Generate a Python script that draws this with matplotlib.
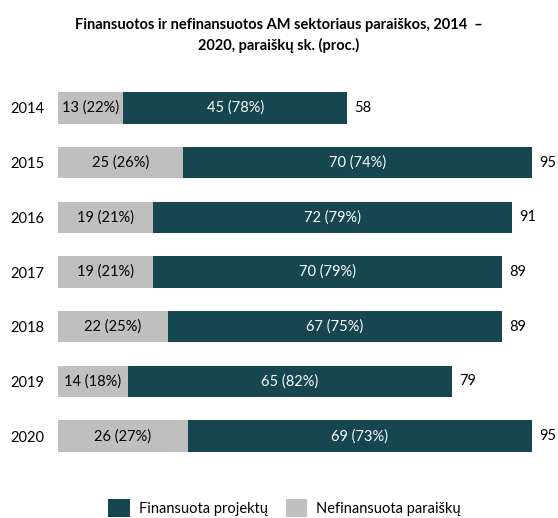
import matplotlib.pyplot as plt

plt.rcParams['font.family'] = ['Lato', 'DejaVu Sans']

years = ["2014", "2015", "2016", "2017", "2018", "2019", "2020"]
nefinansuota = [13, 25, 19, 19, 22, 14, 26]
finansuota = [45, 70, 72, 70, 67, 65, 69]
nefin_pct = [22, 26, 21, 21, 25, 18, 27]
fin_pct = [78, 74, 79, 79, 75, 82, 73]

teal = "#16464F"
gray = "#BFBFBF"

fig = plt.figure(figsize=(5.58, 5.18), dpi=100)
ax = fig.add_axes([58 / 558, 0.1054, 474 / 558, 0.739])

y = list(range(len(years)))
ax.barh(y, nefinansuota, height=0.57, color=gray, label="Nefinansuota paraiškų")
ax.barh(y, finansuota, left=nefinansuota, height=0.57, color=teal, label="Finansuota projektų")

for i in y:
    n, f = nefinansuota[i], finansuota[i]
    ax.text(n / 2, i, f"{n} ({nefin_pct[i]}%)", ha="center", va="center", fontsize=10.5, color="black")
    ax.text(n + f / 2, i, f"{f} ({fin_pct[i]}%)", ha="center", va="center", fontsize=10.5, color="white")
    ax.annotate(str(n + f), (n + f, i), xytext=(5, 0), textcoords="offset points",
                ha="left", va="center", fontsize=10.5, annotation_clip=False)

ax.set_xlim(0, 95)
ax.set_ylim(6.5, -0.5)
ax.set_yticks(y)
ax.set_yticklabels(years, fontsize=10.5)
ax.tick_params(axis="y", length=0, pad=10)
ax.set_xticks([])
for s in ax.spines.values():
    s.set_visible(False)

fig.text(0.5, 0.965, "Finansuotos ir nefinansuotos AM sektoriaus paraiškos, 2014  –\n2020, paraiškų sk. (proc.)",
         ha="center", va="top", fontsize=10.5, fontweight="bold", linespacing=1.5)

h, l = ax.get_legend_handles_labels()
fig.legend(h[::-1], l[::-1], loc="center", bbox_to_anchor=(0.51, 0.019), ncol=2, frameon=False,
           fontsize=10.5, handlelength=1.5, handleheight=1.5, columnspacing=1.2, handletextpad=0.6)

fig.savefig("out.png", dpi=100)
